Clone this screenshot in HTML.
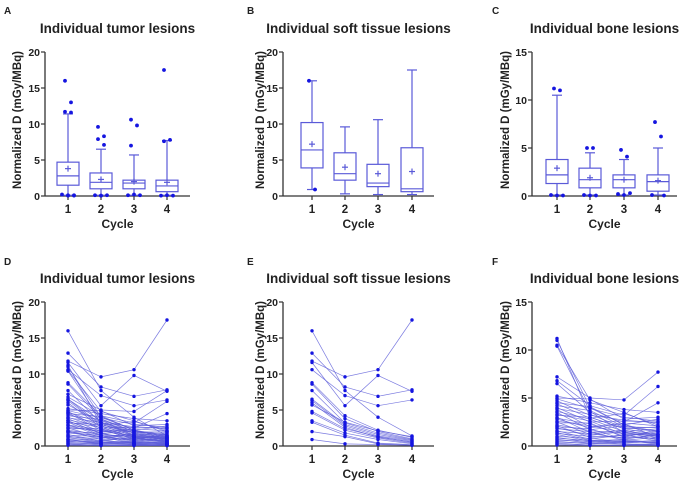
<!DOCTYPE html>
<html><head><meta charset="utf-8"><style>
html,body{margin:0;padding:0;background:#fff;}
svg{display:block;font-family:"Liberation Sans",Arial,sans-serif;}
.t{font-weight:bold;fill:#222;}
</style></head><body>
<svg id="fig" width="685" height="485" viewBox="0 0 685 485"></svg>
<script>
// ---- box plot data (per cycle): [min, q1, median, q3, max, mean]
const cycles = ["1","2","3","4"];
const boxTumor = [[0.1,1.5,2.8,4.7,11.4,3.8],[0.1,1.0,1.9,3.2,6.5,2.3],[0.1,1.0,1.8,2.2,5.7,2.0],[0.1,0.6,1.4,2.2,7.7,1.9]];
const outTumor = [[16.0,13.0,11.7,11.6,0.05,0.1,0.2,0.1,0.05],[9.6,8.3,7.9,7.1,0.05,0.1,0.1,0.05],[10.6,9.8,7.0,0.1,0.2,0.1],[17.5,7.8,7.6,0.05,0.1,0.05]];
const boxSoft = [[0.9,3.9,6.4,10.2,16.0,7.2],[0.3,2.2,3.1,6.0,9.6,4.0],[0.2,1.3,1.8,4.4,10.6,3.1],[0.2,0.6,1.0,6.7,17.5,3.4]];
const outSoft = [[16.0,0.9],[],[],[]];
const boxBone = [[0.1,1.3,2.2,3.8,10.5,2.9],[0.1,0.85,1.7,2.9,4.5,1.9],[0.1,0.85,1.7,2.2,3.8,1.7],[0.1,0.5,1.5,2.2,5.0,1.6]];
const outBone = [[11.2,11.0,0.05,0.1,0.05],[5.0,5.0,0.05,0.1,0.05],[4.8,4.1,0.3,0.2,0.1],[7.7,6.2,0.05,0.1]];
const ticks20 = [0,5,10,15,20];
const ticks15 = [0,5,10,15];
// ---- paired lesion data (cycle 1..4)
const linesSoft = [[16.0,7.7,4.0,1.4],[11.8,9.6,10.6,17.5],[12.9,8.2,6.9,7.8],[11.6,5.6,9.8,7.6],[10.6,7.0,5.6,6.4],[8.8,4.2,2.2,1.2],[8.6,3.8,2.0,1.0],[7.7,3.2,1.8,0.9],[6.5,3.0,1.6,0.8],[6.3,2.8,1.4,0.7],[6.0,2.6,1.2,0.6],[5.7,3.3,2.1,1.3],[4.8,2.4,1.3,0.5],[4.6,2.2,1.1,0.4],[3.5,1.8,0.9,0.3],[3.3,1.5,0.4,0.2],[2.0,1.3,0.3,0.1],[0.9,0.3,0.2,0.1]];
const linesTumorExtra = [[11.2,3.0,1.8,1.2],[11.0,4.0,2.2,1.5],[10.5,4.8,3.5,2.0],[10.4,3.6,1.4,1.0],[7.2,5.0,4.8,7.7],[6.8,4.2,3.2,6.2],[6.5,3.5,2.5,4.5],[5.2,4.5,3.8,3.5],[5.0,4.9,2.8,3.0],[4.9,3.9,3.0,2.6],[4.7,3.2,2.7,2.4],[4.5,4.1,2.2,2.8],[4.4,2.9,3.4,2.2],[4.2,3.7,2.0,1.9],[4.0,2.5,2.6,2.5],[3.9,3.3,1.9,1.6],[3.8,2.0,2.4,2.1],[3.6,2.8,1.5,1.8],[3.5,1.7,2.1,1.4],[3.3,2.6,1.2,1.2],[3.2,3.0,1.8,2.0],[3.0,1.4,1.6,1.1],[2.9,2.3,1.0,1.5],[2.8,1.9,2.3,0.9],[2.6,2.1,1.4,1.3],[2.5,1.2,1.7,0.8],[2.4,2.4,0.9,1.7],[2.2,1.6,1.3,1.0],[2.1,0.9,1.1,0.7],[2.0,1.8,0.7,1.2],[1.9,1.1,1.5,0.6],[1.8,1.5,0.6,0.9],[1.6,0.7,1.2,0.5],[1.5,1.3,0.8,1.1],[1.4,0.6,0.5,0.4],[1.3,1.0,0.9,0.8],[1.2,0.5,0.7,0.3],[1.0,0.8,0.4,0.6],[0.9,0.4,0.6,0.2],[0.8,0.6,0.3,0.5],[0.7,0.3,0.5,0.3],[0.6,0.5,0.2,0.2],[0.5,0.2,0.4,0.4],[0.4,0.3,0.2,0.1],[0.3,0.1,0.1,0.2],[0.2,0.1,0.1,0.1],[0.1,0.05,0.05,0.05]];
const linesTumor = linesSoft.concat(linesTumorExtra);
const linesBone = linesTumorExtra;

const svg = document.getElementById('fig');
const NS = 'http://www.w3.org/2000/svg';
function mk(tag, attrs, parent){const e=document.createElementNS(NS,tag);for(const k in attrs)e.setAttribute(k,attrs[k]);(parent||svg).appendChild(e);return e;}
const X0s=[45,283,532], cx0=[[68,101,134,167],[312,345,378,412],[557,590,624,658]], xEnd=[190,434,677];
const titles=["Individual tumor lesions","Individual soft tissue lesions","Individual bone lesions"];
const letters=[["A",4,14],["B",247,14],["C",492,14],["D",4,265],["E",247,265],["F",492,265]];
const ytX=[21,264,509];
const LINE='#5a5ad8', DOT='#1515e0';

function frame(p,row,maxV,ticks,name){
  const g=mk('g',{});
  
  
  const oy=row*250, yTop=52+oy, yBot=196+oy, ax=X0s[p];
  const y=v=>yBot-(v/maxV)*(yBot-yTop);
  const xs=cx0[p];
  const tt=mk('text',{x:(ax+xEnd[p])/2,y:33+oy,'text-anchor':'middle','font-size':'13.5',class:'t'},g);tt.textContent=titles[p];
  
  mk('line',{x1:ax,y1:yTop,x2:ax,y2:yBot,stroke:'#333','stroke-width':1.3},g);
  mk('line',{x1:ax,y1:yBot,x2:xEnd[p],y2:yBot,stroke:'#333','stroke-width':1.3},g);
  ticks.forEach(t=>{mk('line',{x1:ax-4,y1:y(t),x2:ax,y2:y(t),stroke:'#333','stroke-width':1.2},g);
    const l=mk('text',{x:ax-5,y:y(t)+4,'text-anchor':'end','font-size':'10.5',class:'t'},g);l.textContent=t;
    });
  cycles.forEach((c,i)=>{mk('line',{x1:xs[i],y1:yBot,x2:xs[i],y2:yBot+4,stroke:'#333','stroke-width':1.2},g);
    const l=mk('text',{x:xs[i],y:yBot+17,'text-anchor':'middle','font-size':'11.5',class:'t'},g);l.textContent=c;
    });
  const xl=mk('text',{x:(ax+xEnd[p])/2,y:yBot+32,'text-anchor':'middle','font-size':'12',class:'t'},g);xl.textContent='Cycle';
  
  const yl=mk('text',{x:0,y:0,'text-anchor':'middle','font-size':'11.5',class:'t',transform:`translate(${ytX[p]},${(yTop+yBot)/2-4}) rotate(-90)`},g);yl.textContent='Normalized D (mGy/MBq)';
  
  return {g,y,xs};
}
function boxPanel(p,box,outs,maxV,ticks,name){
  const {g,y,xs}=frame(p,0,maxV,ticks,name);
  box.forEach((b,i)=>{const x=xs[i],w=11;
    const bg=mk('g',{},g);
    
    const s={stroke:LINE,'stroke-width':1.2,fill:'none'};
    mk('line',Object.assign({x1:x,y1:y(b[0]),x2:x,y2:y(b[1])},s),bg);
    mk('line',Object.assign({x1:x,y1:y(b[3]),x2:x,y2:y(b[4])},s),bg);
    mk('line',Object.assign({x1:x-5,y1:y(b[0]),x2:x+5,y2:y(b[0])},s),bg);
    mk('line',Object.assign({x1:x-5,y1:y(b[4]),x2:x+5,y2:y(b[4])},s),bg);
    mk('rect',Object.assign({x:x-w,y:y(b[3]),width:2*w,height:y(b[1])-y(b[3])},s),bg);
    mk('line',Object.assign({x1:x-w,y1:y(b[2]),x2:x+w,y2:y(b[2])},s),bg);
    mk('line',Object.assign({x1:x-3,y1:y(b[5]),x2:x+3,y2:y(b[5])},s),bg);
    mk('line',Object.assign({x1:x,y1:y(b[5])-3,x2:x,y2:y(b[5])+3},s),bg);
    outs[i].forEach((v,k)=>{const off=v<0.5?(k%3-1)*6:(k%2?3:-3);
      const d=mk('circle',{cx:x+off,cy:y(v),r:1.9,fill:DOT},bg);
      });
  });
}
function linePanel(p,lines,maxV,ticks,name){
  const {g,y,xs}=frame(p,1,maxV,ticks,name);
  lines.forEach(r=>{const pl=mk('polyline',{points:r.map((v,i)=>xs[i]+','+y(v)).join(' '),fill:'none',stroke:LINE,'stroke-width':0.7,'stroke-opacity':0.8},g);
    });
  lines.forEach(r=>r.forEach((v,i)=>{const d=mk('circle',{cx:xs[i],cy:y(v),r:1.7,fill:DOT},g);
    }));
}
letters.forEach(l=>{const t=mk('text',{x:l[1],y:l[2],'font-size':'10',class:'t'});t.textContent=l[0];
  });
boxPanel(0,boxTumor,outTumor,20,ticks20,'panel-a-tumor-box');
boxPanel(1,boxSoft,outSoft,20,ticks20,'panel-b-soft-box');
boxPanel(2,boxBone,outBone,15,ticks15,'panel-c-bone-box');
linePanel(0,linesTumor,20,ticks20,'panel-d-tumor-lines');
linePanel(1,linesSoft,20,ticks20,'panel-e-soft-lines');
linePanel(2,linesBone,15,ticks15,'panel-f-bone-lines');
</script>
</body></html>
